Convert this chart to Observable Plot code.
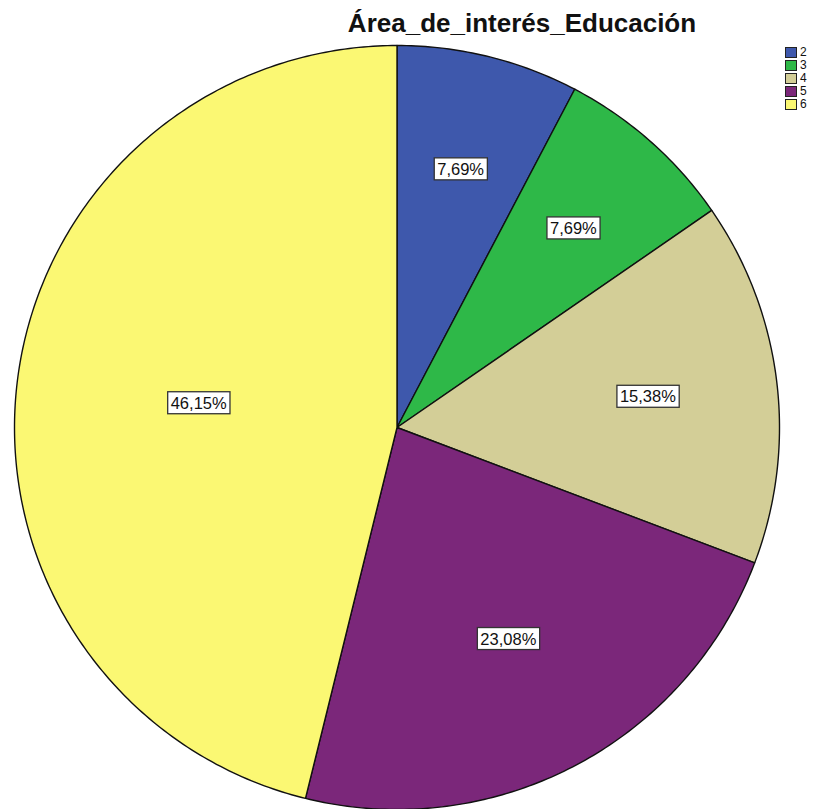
<!DOCTYPE html>
<html>
<head>
<meta charset="utf-8">
<script src="https://cdn.jsdelivr.net/npm/d3@7"></script>
<script src="https://cdn.jsdelivr.net/npm/@observablehq/plot@0.6"></script>
<style>
  html, body { margin: 0; padding: 0; background: #fff; }
  #wrap { position: relative; width: 818px; height: 809px; overflow: hidden; font-family: "Liberation Sans", Arial, sans-serif; }
  #title { position: absolute; left: 0; top: 8px; width: 1044px; text-align: center; font-weight: bold; font-size: 26px; line-height: 30px; color: #111; white-space: nowrap; }
  #legend { position: absolute; left: 785px; top: 46px; font-size: 12px; line-height: 13px; color: #111; }
  .li { display: flex; align-items: center; height: 13px; }
  .sw { width: 12px; height: 11px; box-sizing: border-box; border: 1px solid #222; margin-right: 3px; }
</style>
</head>
<body>
<div id="wrap">
  <div id="chart"></div>
  <div id="title">Área_de_interés_Educación</div>
  <div id="legend"></div>
</div>
<script>
const categories = ["2", "3", "4", "5", "6"];
const percents = [7.69, 7.69, 15.38, 23.08, 46.15];
const labels = ["7,69%", "7,69%", "15,38%", "23,08%", "46,15%"];
const colors = ["#3E58AC", "#2EB848", "#D3CE97", "#7B277A", "#FBF873"];

const data = categories.map((c, i) => ({cat: c, value: percents[i], label: labels[i]}));

// Angles clockwise from 12 o'clock
const total = d3.sum(percents);
const pie = d3.pie().value(d => d.value).sort(null)(data);
const pts = [];
pie.forEach(s => {
  const n = Math.max(8, Math.ceil((s.endAngle - s.startAngle) * 80));
  pts.push({cat: s.data.cat, x: 0, y: 0});
  for (let k = 0; k <= n; k++) {
    const a = s.startAngle + (s.endAngle - s.startAngle) * k / n;
    pts.push({cat: s.data.cat, x: Math.sin(a), y: Math.cos(a)});
  }
});
// larger slices place their label nearer the centre
const labelPts = pie.map(s => {
  const a = (s.startAngle + s.endAngle) / 2;
  const f = 0.73 - 0.45 * s.data.value / total;
  return {cat: s.data.cat, label: s.data.label, x: f * Math.sin(a), y: f * Math.cos(a)};
});

const chart = Plot.plot({
  width: 818,
  height: 809,
  marginLeft: 14,
  marginRight: 39,
  marginTop: 45,
  marginBottom: 0,
  x: {domain: [-1, 1], axis: null},
  y: {domain: [-1, 1], axis: null},
  color: {domain: categories, range: colors},
  style: {background: "white"},
  marks: [
    Plot.line(pts, {x: "x", y: "y", z: "cat", fill: "cat", stroke: "#111", strokeWidth: 1.4, curve: "linear-closed"}),
    Plot.text(labelPts, {x: "x", y: "y", text: "label", fontSize: 16.5, fill: "#111", fontFamily: "Liberation Sans, Arial, sans-serif", className: "plabel"})
  ]
});
document.getElementById("chart").appendChild(chart);

// White boxes with dark border behind each label
d3.select(chart).selectAll(".plabel text").each(function() {
  const b = this.getBBox();
  const padX = 3, padY = 2;
  d3.select(this.parentNode).insert("rect", () => this)
    .attr("x", b.x - padX).attr("y", b.y - padY)
    .attr("width", b.width + 2 * padX).attr("height", b.height + 2 * padY)
    .attr("fill", "white").attr("stroke", "#333").attr("stroke-width", 1.3)
    .attr("transform", this.getAttribute("transform"));
});

const lg = d3.select("#legend");
categories.forEach((c, i) => {
  const row = lg.append("div").attr("class", "li");
  row.append("div").attr("class", "sw").style("background", colors[i]);
  row.append("span").text(c);
});
</script>
</body>
</html>
